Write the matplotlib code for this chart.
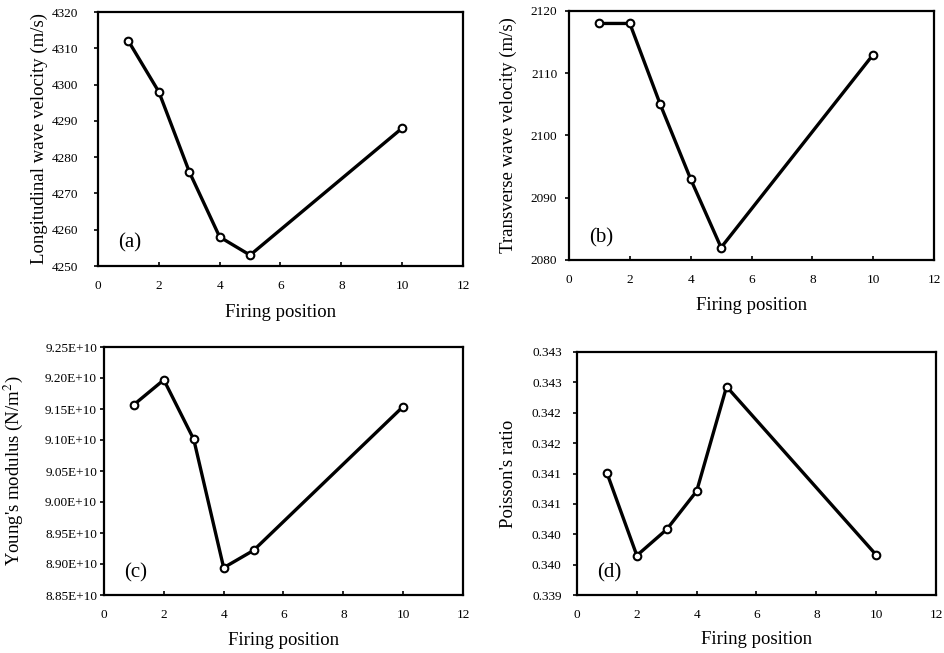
import numpy as np
import matplotlib
matplotlib.use('Agg')
import matplotlib.pyplot as plt
from matplotlib.ticker import FixedLocator, FuncFormatter

plt.rcParams['font.family'] = ['Liberation Serif', 'DejaVu Serif']
plt.rcParams['mathtext.fontset'] = 'stix'

positions = [1, 2, 3, 4, 5, 10]
long_vel = [4312, 4298, 4276, 4258, 4253, 4288]
trans_vel = [2118, 2118, 2105, 2093, 2082, 2113]
youngs = [9.157e10, 9.197e10, 9.101e10, 8.894e10, 8.922e10, 9.154e10]
poisson = [0.34101, 0.33965, 0.34008, 0.34071, 0.34243, 0.33966]

W, H = 945, 653
fig = plt.figure(figsize=(W / 100, H / 100), dpi=100)

def make_ax(l, r, t, b):
    return fig.add_axes([l / W, 1 - b / H, (r - l) / W, (b - t) / H])

def style(ax, ylabel, tag, ylim, ystep, fmt, ypad, ylab_x):
    ax.set_xlim(0, 12)
    ax.set_xticks(np.arange(0, 13, 2))
    ax.set_ylim(*ylim)
    ticks = np.arange(ylim[0], ylim[1] + ystep / 2, ystep)
    ax.yaxis.set_major_locator(FixedLocator(ticks))
    ax.yaxis.set_major_formatter(FuncFormatter(fmt))
    for s in ax.spines.values():
        s.set_linewidth(1.6)
    ax.tick_params(axis='x', direction='in', length=3, width=1.2, labelsize=9.5, pad=10)
    ax.tick_params(axis='y', direction='out', length=3, width=1.2, labelsize=9.5, pad=ypad)
    ax.set_xlabel('Firing position', fontsize=13.5)
    ax.set_ylabel(ylabel, fontsize=13.5)
    ax.xaxis.set_label_coords(0.5, -0.15)
    ax.yaxis.set_label_coords(ylab_x, 0.5)
    ax.text(0.055, 0.09, tag, transform=ax.transAxes, fontsize=15, va='center')

def draw(ax, y):
    ax.plot(positions, y, color='black', lw=2.4, marker='o', ms=5.5,
            mfc='white', mec='black', mew=1.5, clip_on=False)

ax_a = make_ax(98, 463, 12, 266)
draw(ax_a, long_vel)
style(ax_a, 'Longitudinal wave velocity (m/s)', '(a)', (4250, 4320), 10,
      lambda v, p: '%d' % round(v), 11, -0.137)

ax_b = make_ax(569, 934, 11, 260)
draw(ax_b, trans_vel)
style(ax_b, 'Transverse wave velocity (m/s)', '(b)', (2080, 2120), 10,
      lambda v, p: '%d' % round(v), 5.5, -0.142)

ax_c = make_ax(104, 463, 347, 595)
draw(ax_c, youngs)
style(ax_c, "Young's modulus (N/m$^{2}$)", '(c)', (8.85e10, 9.25e10), 0.05e10,
      lambda v, p: '%.2fE+10' % (v / 1e10), 2, -0.22)

ax_d = make_ax(577, 936, 352, 595)
draw(ax_d, poisson)
style(ax_d, "Poisson's ratio", '(d)', (0.339, 0.343), 0.0005,
      lambda v, p: '%.3f' % v, 8, -0.167)

plt.savefig('out.png', dpi=100)
plt.close()
